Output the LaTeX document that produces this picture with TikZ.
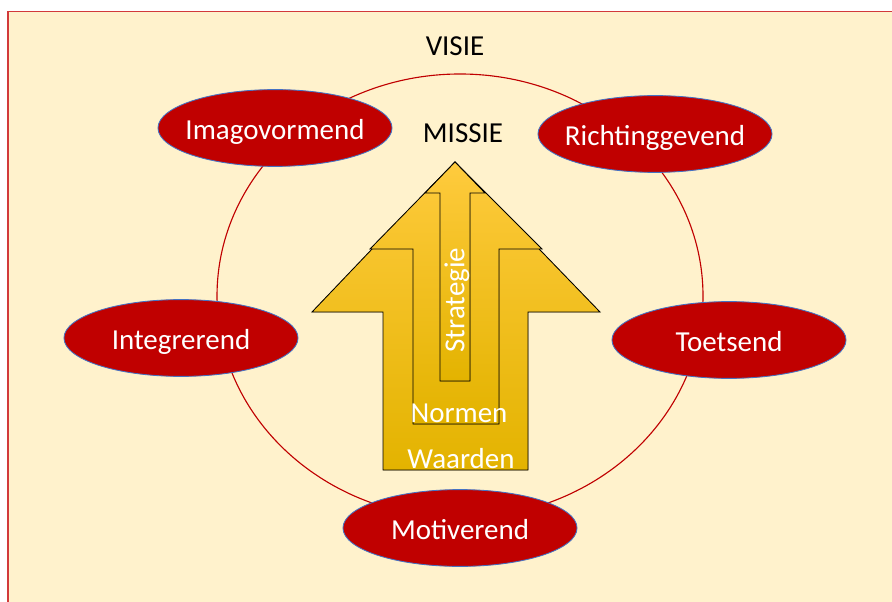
\documentclass[tikz,border=0pt]{standalone}
\usepackage{fontspec}
\setmainfont{Carlito}
\usetikzlibrary{positioning,shapes.geometric}

\definecolor{cream}{HTML}{FFF2CC}
\definecolor{darkred}{HTML}{C00000}
\definecolor{rimblue}{HTML}{4472C4}
\definecolor{framered}{HTML}{D23A3A}
\definecolor{goldtop}{HTML}{FFCB3E}
\definecolor{goldmid}{HTML}{FFC000}
\definecolor{goldbot}{HTML}{E3B300}

% tekst zonder breedte, zodat de ellips zijn eigen maat houdt
\newcommand{\rolename}[1]{\makebox[0pt]{#1}}

\tikzset{
  role/.style={ellipse, fill=darkred, draw=rimblue, line width=0.6pt,
    minimum width=5.85cm, minimum height=1.92cm, inner sep=0pt,
    text height=0.62cm, text depth=0.06cm,
    text=white, font=\fontsize{20.6}{24}\selectfont},
  arrowpart/.style={draw=black, line width=0.6pt, line join=miter,
    top color=goldtop, middle color=goldmid, bottom color=goldbot},
  label/.style={font=\fontsize{20.6}{24}\selectfont, inner sep=0pt},
  inlabel/.style={label, text=white}
}

\begin{document}
\begin{tikzpicture}[x=0.025cm, y=-0.025cm]
\useasboundingbox (0,0) rectangle (892,602);

% achtergrond
\fill[cream] (8,11.5) rectangle (892,602);
\draw[framered, line width=1.2pt] (8,602) -- (8,11.5) -- (892,11.5);

% cirkel
\draw[darkred, line width=0.8pt] (460,296) ellipse (243 and 222);

% pijlen
\def\tx{455}
\def\ty{162}

\fill[arrowpart] (\tx,\ty) -- (600,312) -- (528,312) -- (528,470)
  -- (383,470) -- (383,312) -- (312,312) -- cycle;
\fill[arrowpart] (\tx,\ty) -- (542,249) -- (499,249) -- (499,424)
  -- (413,424) -- (413,249) -- (370,249) -- cycle;
\fill[arrowpart] (\tx,\ty) -- (485,193) -- (470,193) -- (470,381)
  -- (440,381) -- (440,193) -- (425,193) -- cycle;

\node[inlabel, rotate=90] (strategie) at (457,300) {Strategie};
\node[inlabel] (normen) at (459,413) {Normen};
\node[inlabel] (waarden) at (461,459) {Waarden};

\node[label] (visie) at (455,46) {VISIE};
\node[label] (missie) at (463,133) {MISSIE};

% rollen
\node[role] (imago) at (275,128) {\rolename{Imagovormend}};
\node[role] (richting) at (655,134) {\rolename{Richtinggevend}};
\node[role] (integr) at (181,338) {\rolename{Integrerend}};
\node[role] (toets) at (729,340) {\rolename{Toetsend}};
\node[role] (motiv) at (460,528) {\rolename{Motiverend}};

\end{tikzpicture}
\end{document}
